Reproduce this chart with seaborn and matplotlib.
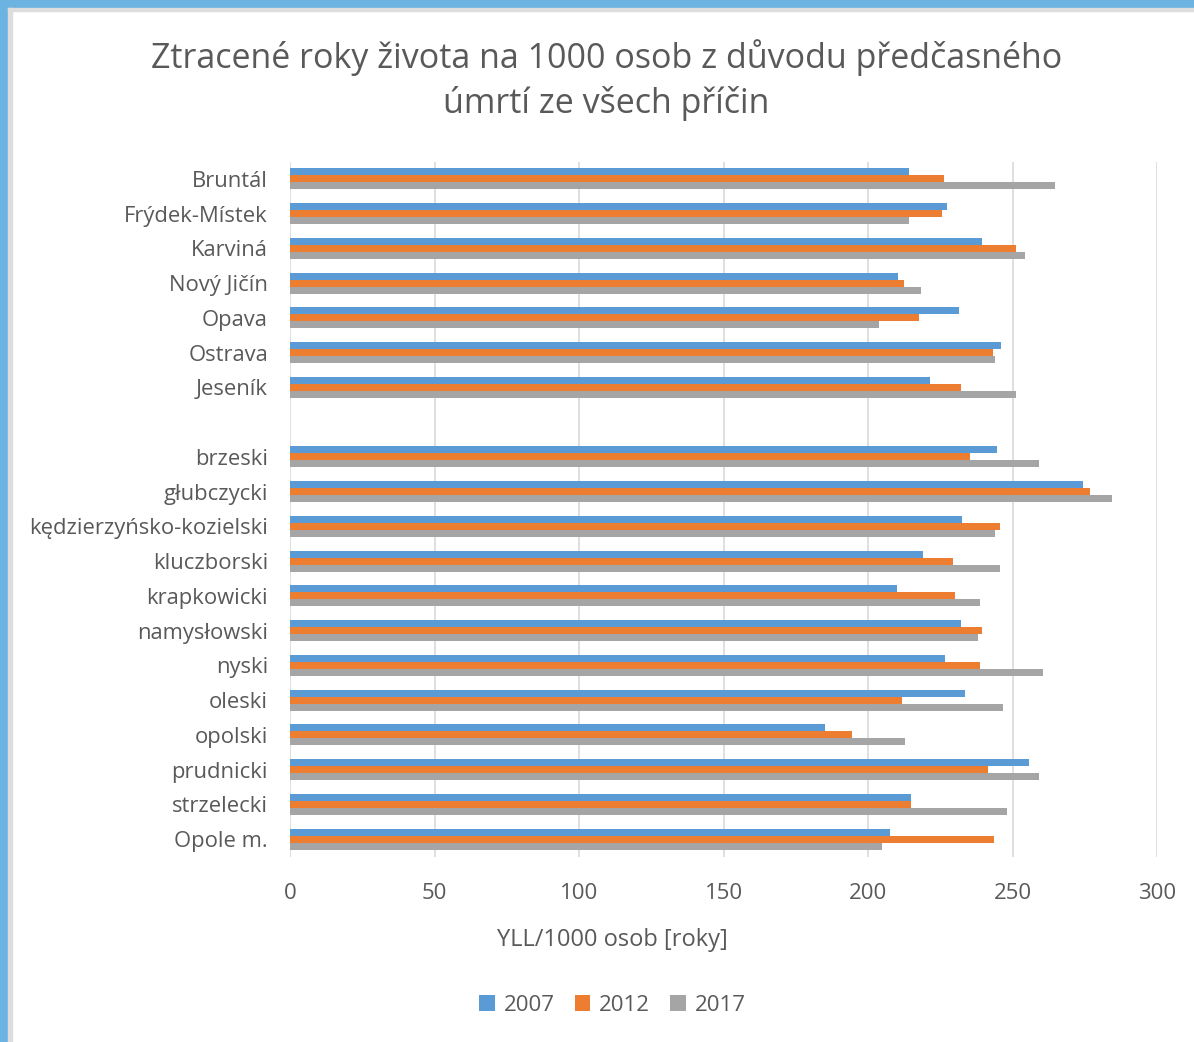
import numpy as np
import pandas as pd
import matplotlib
matplotlib.use("Agg")
import matplotlib.pyplot as plt
import seaborn as sns
from matplotlib.patches import Rectangle

# data (YLL per 1000 persons)
districts = ["Bruntál", "Frýdek-Místek", "Karviná", "Nový Jičín", "Opava", "Ostrava", "Jeseník",
             " ",
             "brzeski", "głubczycki", "kędzierzyńsko-kozielski", "kluczborski", "krapkowicki",
             "namysłowski", "nyski", "oleski", "opolski", "prudnicki", "strzelecki", "Opole m."]
data_districts = [d for d in districts if d.strip()]
years = ["2007", "2012", "2017"]
yll_2007 = [214.1, 227.3, 239.5, 210.5, 231.6, 246.1, 221.6,
            244.5, 274.5, 232.5, 218.9, 210.0, 232.0, 226.8, 233.4, 185.2, 255.7, 215.0, 207.7]
yll_2012 = [226.4, 225.5, 251.1, 212.3, 217.5, 243.2, 232.0,
            235.2, 276.8, 245.7, 229.5, 230.0, 239.5, 238.6, 211.8, 194.5, 241.4, 215.0, 243.6]
yll_2017 = [264.8, 214.1, 254.3, 218.4, 203.9, 244.1, 251.1,
            259.1, 284.3, 244.1, 245.7, 238.6, 238.0, 260.5, 246.6, 212.7, 259.1, 248.2, 204.8]
colors = ["#5B9BD5", "#ED7D31", "#A5A5A5"]

df = pd.DataFrame({
    "okres": data_districts * 3,
    "rok": np.repeat(years, len(data_districts)),
    "yll": yll_2007 + yll_2012 + yll_2017,
})

sns.set_theme(style="white")
plt.rcParams["font.family"] = ["Open Sans", "DejaVu Sans"]
text_color = "#595959"

fig = plt.figure(figsize=(11.94, 10.42), dpi=100)
ax = fig.add_axes([0.243, 0.178, 0.726, 0.667])

sns.barplot(data=df, x="yll", y="okres", hue="rok", order=districts, hue_order=years,
            palette=colors, saturation=1, width=0.6, linewidth=0, orient="h", ax=ax,
            legend=True)

ax.set_xlim(0, 300)
ax.set_xticks(np.arange(0, 301, 50))
ax.grid(axis="x", color="#D9D9D9", linewidth=1.2)
ax.set_axisbelow(True)
for s in ax.spines.values():
    s.set_visible(False)
ax.tick_params(axis="x", length=0, labelsize=16, labelcolor=text_color, pad=19)
ax.tick_params(axis="y", length=0, labelsize=15.8, labelcolor=text_color, pad=16)
ax.set_xlabel("")
ax.set_ylabel("")

fig.text(0.513, 0.098, "YLL/1000 osob [roky]", ha="center", va="center",
         fontsize=17, color=text_color)
fig.text(0.508, 0.923, "Ztracené roky života na 1000 osob z důvodu předčasného\númrtí ze všech příčin",
         ha="center", va="center", fontsize=24.5, color=text_color, linespacing=1.38)

handles, labels = ax.get_legend_handles_labels()
ax.legend_.remove()
fig.legend(handles, labels, loc="center", bbox_to_anchor=(0.513, 0.035), ncol=3,
           frameon=False, fontsize=16, labelcolor=text_color, handlelength=0.7,
           handleheight=0.7, handletextpad=0.4, columnspacing=0.9)

# slide frame from the screenshot
fig.patches.append(Rectangle((0, 0.992), 1, 0.008, transform=fig.transFigure,
                             color="#6CB3E1", zorder=0))
fig.patches.append(Rectangle((0, 0), 0.007, 1, transform=fig.transFigure,
                             color="#6CB3E1", zorder=0))
fig.patches.append(Rectangle((0.007, 0.989), 0.993, 0.003, transform=fig.transFigure,
                             color="#DDDDDD", zorder=0))
fig.patches.append(Rectangle((0.007, 0), 0.003, 0.992, transform=fig.transFigure,
                             color="#DDDDDD", zorder=0))

fig.savefig("out.png", dpi=100)
